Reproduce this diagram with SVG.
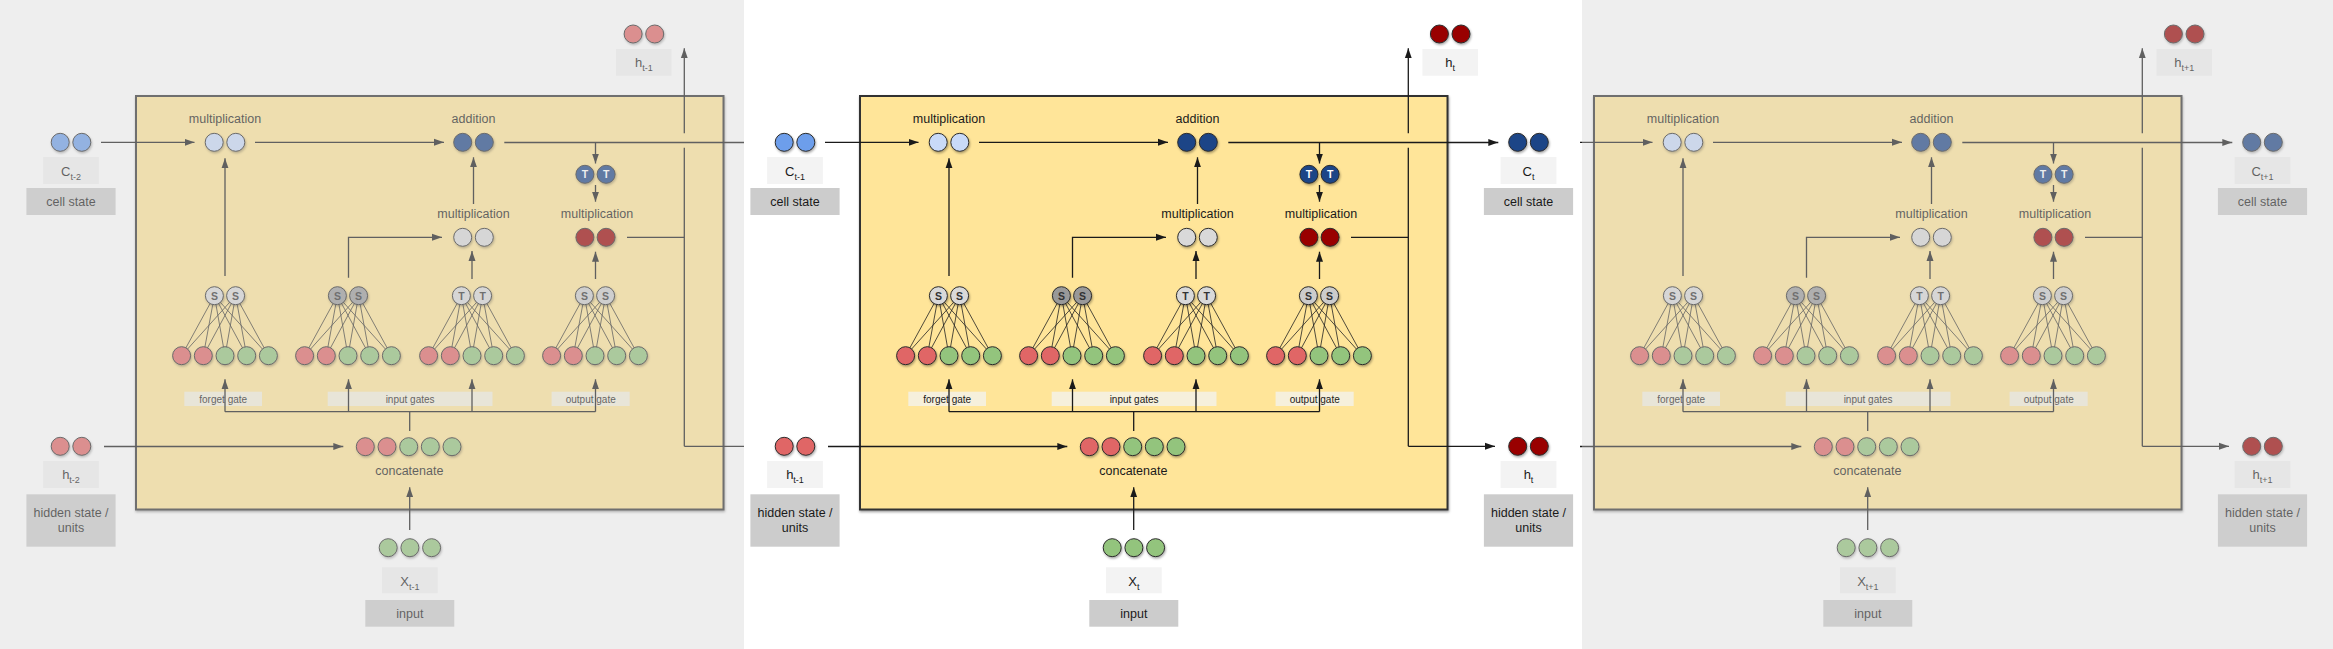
<svg xmlns="http://www.w3.org/2000/svg" xmlns:xlink="http://www.w3.org/1999/xlink" width="2333" height="649" viewBox="0 0 2333 649">
<style>
text{font-family:"Liberation Sans",Arial,sans-serif;fill:#1a1a1a}
.lbl{font-size:12.5px;text-anchor:middle}
.sm{font-size:10px;text-anchor:middle}
.sym{font-size:13px;text-anchor:middle}
.sub{font-size:9px}
.gt{font-size:10.5px;font-weight:bold;text-anchor:middle;fill:#333}
.gtw{font-size:10.5px;font-weight:bold;text-anchor:middle;fill:#fff}
.ln{stroke:#1a1a1a;stroke-width:1.3;fill:none}
.arr{marker-end:url(#ah)}
.fan{stroke:#222;stroke-width:0.8;fill:none}
.c{stroke:#2b2b2b;stroke-width:1;filter:url(#sh)}
.lb{fill:#f3f3f3}
.db{fill:#cccccc}
.gb{fill:#f3f3f3;fill-opacity:0.75}
.bl{fill:#6d9eeb}.bxl{fill:#c9daf8}.bd{fill:#1c4587}
.rl{fill:#e06666}.rd{fill:#990000}.gr{fill:#93c47d}
.g1{fill:#d9d9d9}.g2{fill:#999999}.g3{fill:#cccccc}
.ov{fill:#d2d2d2;fill-opacity:0.38}
</style>
<defs>
<marker id="ah" markerWidth="10" markerHeight="8" refX="10" refY="4" orient="auto" markerUnits="userSpaceOnUse"><path d="M0,0.5 L10,4 L0,7.5 z" fill="#1a1a1a"/></marker>
<filter id="sh" x="-40%" y="-40%" width="180%" height="180%"><feDropShadow dx="0.8" dy="1.5" stdDeviation="1" flood-color="#000" flood-opacity="0.35"/></filter>
<filter id="bsh" x="-5%" y="-5%" width="110%" height="110%"><feDropShadow dx="0.5" dy="1.5" stdDeviation="1" flood-color="#000" flood-opacity="0.4"/></filter>
<clipPath id="clipL"><rect x="0" y="0" width="744" height="649"/></clipPath>
<clipPath id="clipR"><rect x="1580" y="0" width="753" height="649"/></clipPath>
<path id="fan" d="M-43.4,355.7L-10.6,295.7M-43.4,355.7L10.6,295.7M-21.7,355.7L-10.6,295.7M-21.7,355.7L10.6,295.7M0,355.7L-10.6,295.7M0,355.7L10.6,295.7M21.7,355.7L-10.6,295.7M21.7,355.7L10.6,295.7M43.4,355.7L-10.6,295.7M43.4,355.7L10.6,295.7"/>
<g id="neurons">
<circle class="c rl" cx="-43.4" cy="355.7" r="9"/><circle class="c rl" cx="-21.7" cy="355.7" r="9"/><circle class="c gr" cx="0" cy="355.7" r="9"/><circle class="c gr" cx="21.7" cy="355.7" r="9"/><circle class="c gr" cx="43.4" cy="355.7" r="9"/>
</g>
</defs>
<rect x="0" y="0" width="2333" height="649" fill="#ffffff"/>

<!-- LEFT PANEL (t-1) -->
<g id="panel-left">
<g clip-path="url(#clipL)"><use href="#cell-t" xlink:href="#cell-t" x="-724"/></g>
<g id="L-cstate-in"><circle class="c bl" cx="60.2" cy="142.3" r="9"/><circle class="c bl" cx="81.8" cy="142.3" r="9"/>
<rect class="lb" x="43.1" y="157" width="55.8" height="27"/><text class="sym" x="71" y="176">C<tspan class="sub" dy="4">t-2</tspan></text>
<rect class="db" x="26.4" y="188" width="89.2" height="27"/><text class="lbl" x="71" y="206">cell state</text></g>
<g id="L-hidden-in"><circle class="c rl" cx="60.2" cy="446.3" r="9"/><circle class="c rl" cx="81.8" cy="446.3" r="9"/>
<rect class="lb" x="43.1" y="461" width="55.8" height="27"/><text class="sym" x="71" y="479">h<tspan class="sub" dy="4">t-2</tspan></text>
<rect class="db" x="26.4" y="494.3" width="89.2" height="52.4"/><text class="lbl" x="71" y="517">hidden state /</text><text class="lbl" x="71" y="532">units</text></g>
<g id="L-input"><circle class="c gr" cx="388.2" cy="547.7" r="9"/><circle class="c gr" cx="409.9" cy="547.7" r="9"/><circle class="c gr" cx="431.6" cy="547.7" r="9"/>
<rect class="lb" x="382" y="567.3" width="55.7" height="26"/><text class="sym" x="409.9" y="585.5">X<tspan class="sub" dy="4">t-1</tspan></text>
<rect class="db" x="365.3" y="600" width="89" height="26.7"/><text class="lbl" x="409.9" y="618">input</text></g>
<g id="L-hidden-out"><circle class="c rl" cx="633.1" cy="34" r="9"/><circle class="c rl" cx="654.7" cy="34" r="9"/>
<rect class="lb" x="616" y="49" width="55.6" height="26.7"/><text class="sym" x="643.9" y="67">h<tspan class="sub" dy="4">t-1</tspan></text></g>
<rect class="ov" x="0" y="0" width="744" height="649"/>
</g>

<!-- MIDDLE PANEL (t) -->
<g id="cell-t">
<g id="cell-box"><rect x="860" y="96" width="587.5" height="413.5" fill="#ffe599" stroke="#333" stroke-width="2" filter="url(#bsh)"/></g>
<g id="gate-labels">
<rect class="gb" x="908.3" y="391.7" width="77.7" height="14.3"/><text class="sm" x="947.2" y="402.5">forget gate</text>
<rect class="gb" x="1051.7" y="391.7" width="164.8" height="14.3"/><text class="sm" x="1134.1" y="402.5">input gates</text>
<rect class="gb" x="1275.6" y="391.7" width="78.1" height="14.3"/><text class="sm" x="1314.7" y="402.5">output gate</text>
</g>
<g id="connectors">
<use href="#fan" xlink:href="#fan" class="fan" x="949"/>
<use href="#fan" xlink:href="#fan" class="fan" x="1072"/>
<use href="#fan" xlink:href="#fan" class="fan" x="1196"/>
<use href="#fan" xlink:href="#fan" class="fan" x="1319"/>
<path class="ln arr" d="M825,142.3H918.5"/>
<path class="ln arr" d="M979,142.3H1168"/>
<path class="ln arr" d="M1228.3,142.5H1498.3"/>
<path class="ln arr" d="M1319.5,142.5V163.5"/>
<path class="ln arr" d="M1319.5,185V201.7"/>
<path class="ln arr" d="M1197.5,204V157.3"/>
<path class="ln arr" d="M949,276V158.3"/>
<path class="ln arr" d="M1072.5,277.7V237.3H1166"/>
<path class="ln arr" d="M1196,279V251"/>
<path class="ln arr" d="M1319.5,279V251.7"/>
<path class="ln" d="M1351,237.3H1408.3"/>
<path class="ln" d="M1408.3,446.3V147.7"/>
<path class="ln arr" d="M1408.3,133.3V48.3"/>
<path class="ln arr" d="M1408.3,446.3H1495"/>
<path class="ln arr" d="M828,446.5H1067.3"/>
<path class="ln" d="M1133.7,431V411.7M949,411.7H1319.5"/>
<path class="ln arr" d="M949,411.7V379.3"/>
<path class="ln arr" d="M1072.5,411.7V379.3"/>
<path class="ln arr" d="M1196,411.7V379.3"/>
<path class="ln arr" d="M1319.5,411.7V379.3"/>
<path class="ln arr" d="M1133.7,530V487.3"/>
</g>
<g id="mult-forget"><text class="lbl" x="949" y="123.3">multiplication</text><circle class="c bxl" cx="938.2" cy="142.3" r="9"/><circle class="c bxl" cx="959.8" cy="142.3" r="9"/></g>
<g id="addition"><text class="lbl" x="1197.5" y="123.3">addition</text><circle class="c bd" cx="1186.7" cy="142.3" r="9"/><circle class="c bd" cx="1208.3" cy="142.3" r="9"/></g>
<g id="tanh-cell"><circle class="c bd" cx="1308.9" cy="174.3" r="9"/><circle class="c bd" cx="1330.1" cy="174.3" r="9"/><text class="gtw" x="1308.9" y="178.2">T</text><text class="gtw" x="1330.1" y="178.2">T</text></g>
<g id="mult-input"><text class="lbl" x="1197.5" y="218.3">multiplication</text><circle class="c g1" cx="1186.7" cy="237.3" r="9"/><circle class="c g1" cx="1208.3" cy="237.3" r="9"/></g>
<g id="mult-output"><text class="lbl" x="1321" y="218.3">multiplication</text><circle class="c rd" cx="1308.9" cy="237.3" r="9"/><circle class="c rd" cx="1330.1" cy="237.3" r="9"/></g>
<g id="forget-gate"><circle class="c g1" cx="938.4" cy="295.7" r="9"/><circle class="c g1" cx="959.6" cy="295.7" r="9"/><text class="gt" x="938.4" y="299.6">S</text><text class="gt" x="959.6" y="299.6">S</text><use href="#neurons" xlink:href="#neurons" x="949"/></g>
<g id="input-gate-s"><circle class="c g2" cx="1061.4" cy="295.7" r="9"/><circle class="c g2" cx="1082.6" cy="295.7" r="9"/><text class="gt" x="1061.4" y="299.6">S</text><text class="gt" x="1082.6" y="299.6">S</text><use href="#neurons" xlink:href="#neurons" x="1072"/></g>
<g id="input-gate-t"><circle class="c g1" cx="1185.4" cy="295.7" r="9"/><circle class="c g1" cx="1206.6" cy="295.7" r="9"/><text class="gt" x="1185.4" y="299.6">T</text><text class="gt" x="1206.6" y="299.6">T</text><use href="#neurons" xlink:href="#neurons" x="1196"/></g>
<g id="output-gate"><circle class="c g3" cx="1308.4" cy="295.7" r="9"/><circle class="c g3" cx="1329.6" cy="295.7" r="9"/><text class="gt" x="1308.4" y="299.6">S</text><text class="gt" x="1329.6" y="299.6">S</text><use href="#neurons" xlink:href="#neurons" x="1319"/></g>
<g id="concatenate"><circle class="c rl" cx="1089.3" cy="446.7" r="9"/><circle class="c rl" cx="1111" cy="446.7" r="9"/><circle class="c gr" cx="1132.7" cy="446.7" r="9"/><circle class="c gr" cx="1154.3" cy="446.7" r="9"/><circle class="c gr" cx="1176" cy="446.7" r="9"/><text class="lbl" x="1133.3" y="475">concatenate</text></g>
</g>
<g id="M-cstate-in"><circle class="c bl" cx="784.2" cy="142.3" r="9"/><circle class="c bl" cx="805.8" cy="142.3" r="9"/>
<rect class="lb" x="767.1" y="157" width="55.8" height="27"/><text class="sym" x="795" y="176">C<tspan class="sub" dy="4">t-1</tspan></text>
<rect class="db" x="750.4" y="188" width="89.2" height="27"/><text class="lbl" x="795" y="206">cell state</text></g>
<g id="M-hidden-in"><circle class="c rl" cx="784.2" cy="446.3" r="9"/><circle class="c rl" cx="805.8" cy="446.3" r="9"/>
<rect class="lb" x="767.1" y="461" width="55.8" height="27"/><text class="sym" x="795" y="479">h<tspan class="sub" dy="4">t-1</tspan></text>
<rect class="db" x="750.4" y="494.3" width="89.2" height="52.4"/><text class="lbl" x="795" y="517">hidden state /</text><text class="lbl" x="795" y="532">units</text></g>
<g id="M-input"><circle class="c gr" cx="1112.2" cy="547.7" r="9"/><circle class="c gr" cx="1133.9" cy="547.7" r="9"/><circle class="c gr" cx="1155.6" cy="547.7" r="9"/>
<rect class="lb" x="1106" y="567.3" width="55.7" height="26"/><text class="sym" x="1133.9" y="585.5">X<tspan class="sub" dy="4">t</tspan></text>
<rect class="db" x="1089.3" y="600" width="89" height="26.7"/><text class="lbl" x="1133.9" y="618">input</text></g>
<g id="M-hidden-out-top"><circle class="c rd" cx="1439.4" cy="34" r="9"/><circle class="c rd" cx="1461" cy="34" r="9"/>
<rect class="lb" x="1422.4" y="49" width="55.6" height="26.7"/><text class="sym" x="1450.2" y="67">h<tspan class="sub" dy="4">t</tspan></text></g>
<g id="M-cstate-out"><circle class="c bd" cx="1517.7" cy="142.3" r="9"/><circle class="c bd" cx="1539.3" cy="142.3" r="9"/>
<rect class="lb" x="1500.6" y="157" width="55.8" height="27"/><text class="sym" x="1528.5" y="176">C<tspan class="sub" dy="4">t</tspan></text>
<rect class="db" x="1483.9" y="188" width="89.2" height="27"/><text class="lbl" x="1528.5" y="206">cell state</text></g>
<g id="M-hidden-out"><circle class="c rd" cx="1517.7" cy="446.3" r="9"/><circle class="c rd" cx="1539.3" cy="446.3" r="9"/>
<rect class="lb" x="1500.6" y="461" width="55.8" height="27"/><text class="sym" x="1528.5" y="479">h<tspan class="sub" dy="4">t</tspan></text>
<rect class="db" x="1483.9" y="494.3" width="89.2" height="52.4"/><text class="lbl" x="1528.5" y="517">hidden state /</text><text class="lbl" x="1528.5" y="532">units</text></g>

<!-- RIGHT PANEL (t+1) -->
<g id="panel-right">
<g clip-path="url(#clipR)"><use href="#cell-t" xlink:href="#cell-t" x="734"/></g>
<g id="R-input"><circle class="c gr" cx="1846.2" cy="547.7" r="9"/><circle class="c gr" cx="1867.9" cy="547.7" r="9"/><circle class="c gr" cx="1889.6" cy="547.7" r="9"/>
<rect class="lb" x="1840" y="567.3" width="55.7" height="26"/><text class="sym" x="1867.9" y="585.5">X<tspan class="sub" dy="4">t+1</tspan></text>
<rect class="db" x="1823.3" y="600" width="89" height="26.7"/><text class="lbl" x="1867.9" y="618">input</text></g>
<g id="R-hidden-out-top"><circle class="c rd" cx="2173.4" cy="34" r="9"/><circle class="c rd" cx="2195" cy="34" r="9"/>
<rect class="lb" x="2156.4" y="49" width="55.6" height="26.7"/><text class="sym" x="2184.2" y="67">h<tspan class="sub" dy="4">t+1</tspan></text></g>
<g id="R-cstate-out"><circle class="c bd" cx="2251.7" cy="142.3" r="9"/><circle class="c bd" cx="2273.3" cy="142.3" r="9"/>
<rect class="lb" x="2234.6" y="157" width="55.8" height="27"/><text class="sym" x="2262.5" y="176">C<tspan class="sub" dy="4">t+1</tspan></text>
<rect class="db" x="2217.9" y="188" width="89.2" height="27"/><text class="lbl" x="2262.5" y="206">cell state</text></g>
<g id="R-hidden-out"><circle class="c rd" cx="2251.7" cy="446.3" r="9"/><circle class="c rd" cx="2273.3" cy="446.3" r="9"/>
<rect class="lb" x="2234.6" y="461" width="55.8" height="27"/><text class="sym" x="2262.5" y="479">h<tspan class="sub" dy="4">t+1</tspan></text>
<rect class="db" x="2217.9" y="494.3" width="89.2" height="52.4"/><text class="lbl" x="2262.5" y="517">hidden state /</text><text class="lbl" x="2262.5" y="532">units</text></g>
<rect class="ov" x="1582" y="0" width="751" height="649"/>
</g>
</svg>
